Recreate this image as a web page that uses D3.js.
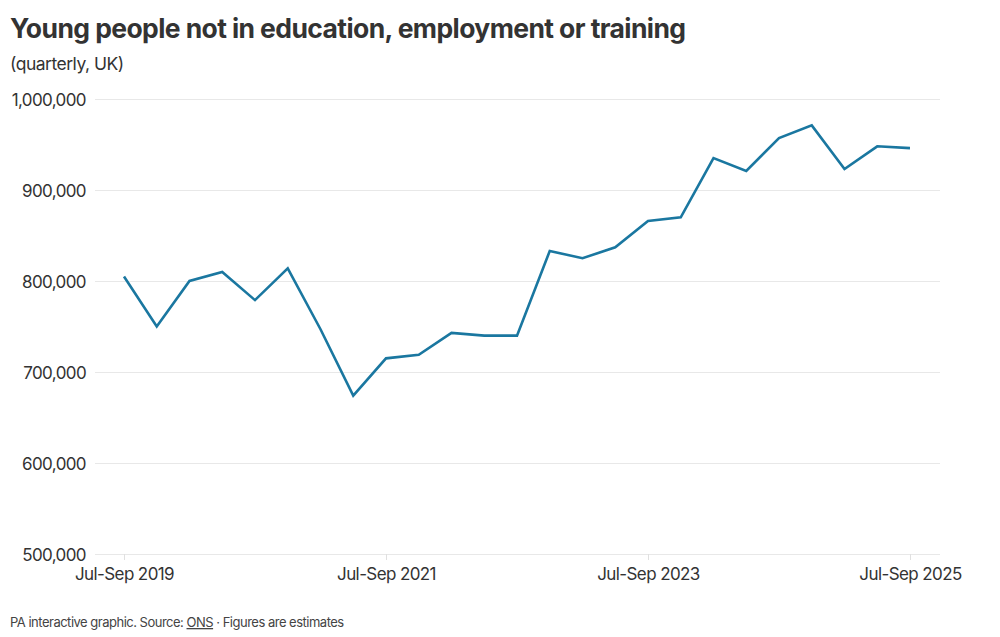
<!DOCTYPE html>
<html><head><meta charset="utf-8">
<script src="https://cdn.jsdelivr.net/npm/d3@7"></script>
<style>
body{margin:0;background:#fff;}
svg text{font-family:Inter,"Noto Sans",sans-serif;}
</style></head>
<body><svg id="c" width="1000" height="637"></svg>
<script>
const quarters = ["Jul-Sep 2019","Oct-Dec 2019","Jan-Mar 2020","Apr-Jun 2020","Jul-Sep 2020","Oct-Dec 2020","Jan-Mar 2021","Apr-Jun 2021","Jul-Sep 2021","Oct-Dec 2021","Jan-Mar 2022","Apr-Jun 2022","Jul-Sep 2022","Oct-Dec 2022","Jan-Mar 2023","Apr-Jun 2023","Jul-Sep 2023","Oct-Dec 2023","Jan-Mar 2024","Apr-Jun 2024","Jul-Sep 2024","Oct-Dec 2024","Jan-Mar 2025","Apr-Jun 2025","Jul-Sep 2025"];
const neetValues = [805000,750000,800000,810000,779000,814000,747000,674000,715000,719000,743000,740000,740000,833000,825000,837000,866000,870000,935000,921000,957000,971000,923000,948000,946000];
const xTickLabels = ["Jul-Sep 2019","Jul-Sep 2021","Jul-Sep 2023","Jul-Sep 2025"];
const yTicks = [500000,600000,700000,800000,900000,1000000];

const svg = d3.select("#c");
const x = d3.scalePoint().domain(quarters).range([124,910]);
const y = d3.scaleLinear().domain([500000,1000000]).range([554,99]);

svg.append("text").attr("x",10).attr("y",38).attr("font-size",26.5).attr("font-weight",700)
  .attr("fill","#333").attr("letter-spacing",-0.6).text("Young people not in education, employment or training");
svg.append("text").attr("x",10).attr("y",70).attr("font-size",17.5).attr("fill","#333")
  .attr("letter-spacing",-0.5).text("(quarterly, UK)");

// gridlines
const yAxis = d3.axisLeft(y).tickValues(yTicks).tickSize(-(940-95)).tickPadding(9)
  .tickFormat(d3.format(","));
const gy = svg.append("g").attr("transform","translate(95,0)").call(yAxis);
gy.select(".domain").remove();
gy.selectAll(".tick line").attr("stroke","#e8e8e8").attr("stroke-width",1);
gy.selectAll(".tick text").attr("fill","#333").attr("font-size",17).attr("letter-spacing",-0.6)
  .attr("dy","0.4em").attr("font-family","Inter,'Noto Sans',sans-serif");

const xAxis = d3.axisBottom(x).tickValues(xTickLabels).tickSize(6).tickPadding(8);
const gx = svg.append("g").attr("transform","translate(0,554)").call(xAxis);
gx.select(".domain").remove();
gx.selectAll(".tick line").attr("stroke","#e0e0e0");
gx.selectAll(".tick text").attr("fill","#333").attr("font-size",17).attr("letter-spacing",-0.6)
  .attr("font-family","Inter,'Noto Sans',sans-serif");

const line = d3.line().x((d,i)=>x(quarters[i])).y(d=>y(d));
svg.append("path").datum(neetValues).attr("d",line).attr("fill","none")
  .attr("stroke","#1a77a0").attr("stroke-width",2.6).attr("stroke-linejoin","miter");

const foot = svg.append("text").attr("x",10).attr("y",627).attr("font-size",13).attr("fill","#444")
  .attr("letter-spacing",-0.5);
foot.append("tspan").text("PA interactive graphic. Source: ");
foot.append("tspan").attr("text-decoration","underline").text("ONS");
foot.append("tspan").text(" \u00b7 Figures are estimates");
</script></body></html>
